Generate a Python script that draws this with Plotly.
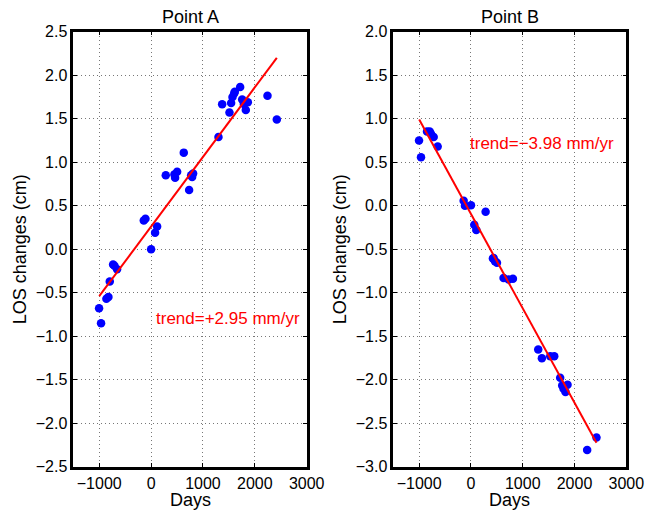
import plotly.graph_objects as go

# Point A data
days_a = [-1003, -965, -862, -823, -797, -733, -707, -656, -141, -109, 0, 77, 116,
          283, 450, 463, 502, 630, 733, 772, 791, 810, 1299, 1370, 1511, 1543,
          1569, 1601, 1614, 1717, 1756, 1788, 1826, 1865, 2244, 2424]
los_a = [-0.68, -0.85, -0.57, -0.55, -0.37, -0.175, -0.19, -0.23, 0.33, 0.35, 0.0, 0.19, 0.26,
         0.85, 0.86, 0.82, 0.89, 1.11, 0.68, 0.85, 0.83, 0.87, 1.29, 1.665, 1.57, 1.68,
         1.75, 1.79, 1.81, 1.865, 1.72, 1.67, 1.60, 1.69, 1.765, 1.49]
trend_a_x = [-1000, 2424]
trend_a_y = [-0.54, 2.20]

# Point B data
days_b = [-1003, -965, -849, -797, -772, -720, -643, -141, -116, 0, 64, 103, 283,
          424, 437, 463, 502, 630, 727, 810, 1299, 1370, 1531, 1608,
          1723, 1762, 1788, 1826, 1865, 2244, 2424]
los_b = [0.75, 0.556, 0.853, 0.853, 0.827, 0.79, 0.68, 0.057, 0.0, 0.004, -0.22, -0.28, -0.07,
         -0.607, -0.60, -0.637, -0.656, -0.83, -0.847, -0.84, -1.654, -1.753, -1.73, -1.73,
         -1.978, -2.066, -2.104, -2.142, -2.058, -2.809, -2.664]
trend_b_x = [-1000, 2424]
trend_b_y = [0.99, -2.725]

titles = ["Point A", "Point B"]
trend_labels = ["trend=+2.95 mm/yr", "trend=\u22123.98 mm/yr"]
trend_label_pos = [(50, -0.80), (-50, 0.72)]
x_title = "Days"
y_title = "LOS changes (cm)"
x_ticks = [-1000, 0, 1000, 2000, 3000]
y_ticks_a = [-2.5, -2.0, -1.5, -1.0, -0.5, 0.0, 0.5, 1.0, 1.5, 2.0, 2.5]
y_ticks_b = [-3.0, -2.5, -2.0, -1.5, -1.0, -0.5, 0.0, 0.5, 1.0, 1.5, 2.0]

FONT = "Liberation Sans, Arial, Helvetica, sans-serif"
fig = go.Figure()

fig.add_trace(go.Scatter(x=days_a, y=los_a, mode="markers", xaxis="x", yaxis="y",
                         marker=dict(color="#0000ff", size=8.5), showlegend=False))
fig.add_trace(go.Scatter(x=trend_a_x, y=trend_a_y, mode="lines", xaxis="x", yaxis="y",
                         line=dict(color="#ff0000", width=2), showlegend=False))
fig.add_trace(go.Scatter(x=days_b, y=los_b, mode="markers", xaxis="x2", yaxis="y2",
                         marker=dict(color="#0000ff", size=8.5), showlegend=False))
fig.add_trace(go.Scatter(x=trend_b_x, y=trend_b_y, mode="lines", xaxis="x2", yaxis="y2",
                         line=dict(color="#ff0000", width=2), showlegend=False))

W, H = 645, 512
ybot, ytop = 1 - 466.7 / H, 1 - 31.7 / H
xdom_a = [73.3 / W, 306.7 / W]
xdom_b = [393.3 / W, 626.3 / W]

axis_common = dict(showline=True, linecolor="black", linewidth=2.5, mirror="ticks",
                   ticks="inside", ticklen=4, tickwidth=1, tickcolor="black",
                   showgrid=True, gridcolor="#777777", gridwidth=1, griddash="1px,3px",
                   zeroline=False, automargin=False,
                   tickfont=dict(family=FONT, size=16, color="black"))

fig.update_layout(
    width=W, height=H,
    margin=dict(l=0, r=0, t=0, b=0, autoexpand=False),
    paper_bgcolor="white", plot_bgcolor="white",
    font=dict(family=FONT, color="black"),
    xaxis=dict(domain=xdom_a, range=[-1500, 3000], tickvals=x_ticks, anchor="y", **axis_common),
    yaxis=dict(domain=[ybot, ytop], range=[-2.5, 2.5], tickvals=y_ticks_a, tickformat=".1f",
               anchor="x", **axis_common),
    xaxis2=dict(domain=xdom_b, range=[-1500, 3000], tickvals=x_ticks, anchor="y2", **axis_common),
    yaxis2=dict(domain=[ybot, ytop], range=[-3.0, 2.0], tickvals=y_ticks_b, tickformat=".1f",
                anchor="x2", **axis_common),
)

ylab_x = [20, 340]
for i, (t, lab, pos) in enumerate(zip(titles, trend_labels, trend_label_pos)):
    xr = "x" if i == 0 else "x2"
    yr = "y" if i == 0 else "y2"
    fig.add_annotation(text=t, xref=xr + " domain", yref="paper", x=0.5, y=1 - 17 / H,
                       xanchor="center", yanchor="middle", showarrow=False,
                       font=dict(family=FONT, size=18, color="black"))
    fig.add_annotation(text=x_title, xref=xr + " domain", yref="paper", x=0.5, y=1 - 500 / H,
                       xanchor="center", yanchor="middle", showarrow=False,
                       font=dict(family=FONT, size=18, color="black"))
    fig.add_annotation(text=y_title, xref="paper", yref="paper", x=ylab_x[i] / W,
                       y=(ybot + ytop) / 2, xanchor="center", yanchor="middle",
                       textangle=-90, showarrow=False,
                       font=dict(family=FONT, size=18, color="black"))
    fig.add_annotation(text=lab, xref=xr, yref=yr, x=pos[0], y=pos[1],
                       xanchor="left", yanchor="middle", showarrow=False,
                       font=dict(family=FONT, size=17, color="#ff0000"))

fig.write_html("out.html")
